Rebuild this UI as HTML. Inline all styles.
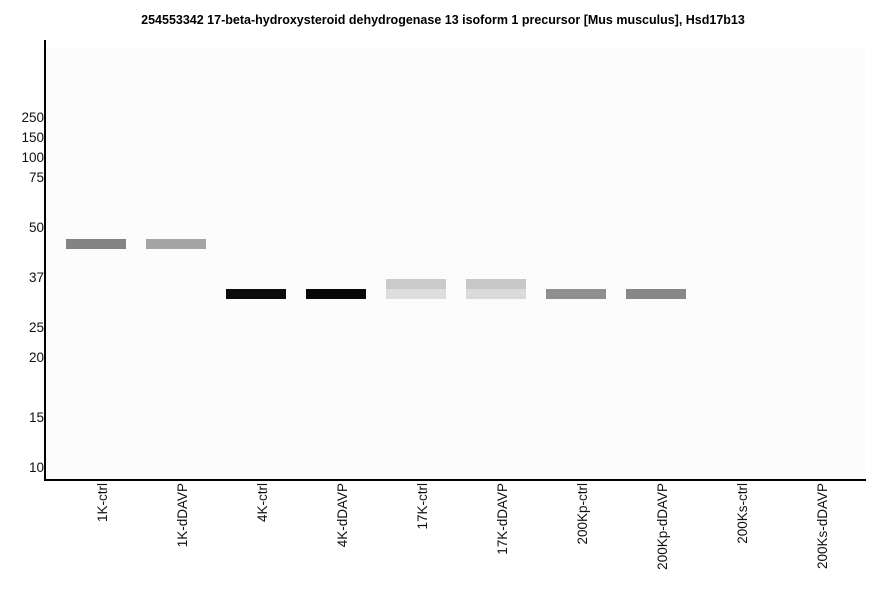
<!DOCTYPE html>
<html><head><style>body{margin:0;background:#fff}svg{display:block}</style></head><body>
<svg width="886" height="595" xmlns="http://www.w3.org/2000/svg" font-family="Liberation Sans, Arial, sans-serif">
<rect width="886" height="595" fill="#fff"/>
<rect x="45" y="47" width="820" height="432" fill="#fcfcfc"/>
<text x="443" y="24" text-anchor="middle" font-size="12.5" font-weight="bold">254553342 17-beta-hydroxysteroid dehydrogenase 13 isoform 1 precursor [Mus musculus], Hsd17b13</text>
<g font-size="13.5" text-anchor="end" fill="#111">
<text x="44" y="122">250</text><text x="44" y="142">150</text><text x="44" y="162">100</text><text x="44" y="182">75</text>
<text x="44" y="232">50</text><text x="44" y="282">37</text><text x="44" y="332">25</text><text x="44" y="362">20</text>
<text x="44" y="422">15</text><text x="44" y="472">10</text>
</g>
<rect x="66" y="239" width="60" height="10" fill="#848484"/>
<rect x="146" y="239" width="60" height="10" fill="#a4a4a4"/>
<rect x="226" y="289" width="60" height="10" fill="#0b0b0b"/>
<rect x="306" y="289" width="60" height="10" fill="#070707"/>
<rect x="386" y="279" width="60" height="10" fill="#cacaca"/>
<rect x="386" y="289" width="60" height="10" fill="#dedede"/>
<rect x="466" y="279" width="60" height="10" fill="#c8c8c8"/>
<rect x="466" y="289" width="60" height="10" fill="#dadada"/>
<rect x="546" y="289" width="60" height="10" fill="#8f8f8f"/>
<rect x="626" y="289" width="60" height="10" fill="#878787"/>
<line x1="45" y1="40" x2="45" y2="481" stroke="#000" stroke-width="2"/>
<line x1="44" y1="480" x2="866" y2="480" stroke="#000" stroke-width="2"/>
<g font-size="13.5" text-anchor="end" fill="#111">
<text transform="translate(107,483) rotate(-90)">1K-ctrl</text>
<text transform="translate(187,483) rotate(-90)">1K-dDAVP</text>
<text transform="translate(267,483) rotate(-90)">4K-ctrl</text>
<text transform="translate(347,483) rotate(-90)">4K-dDAVP</text>
<text transform="translate(427,483) rotate(-90)">17K-ctrl</text>
<text transform="translate(507,483) rotate(-90)">17K-dDAVP</text>
<text transform="translate(587,483) rotate(-90)">200Kp-ctrl</text>
<text transform="translate(667,483) rotate(-90)">200Kp-dDAVP</text>
<text transform="translate(747,483) rotate(-90)">200Ks-ctrl</text>
<text transform="translate(827,483) rotate(-90)">200Ks-dDAVP</text>
</g>
</svg>
</body></html>
